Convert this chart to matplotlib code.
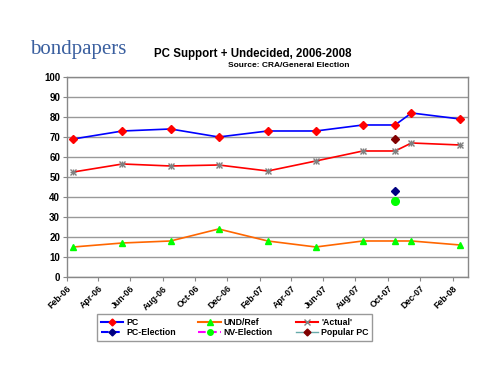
import matplotlib
matplotlib.use("Agg")
import matplotlib.pyplot as plt
from matplotlib.lines import Line2D
from datetime import date

plt.rcParams['font.family'] = ['Liberation Sans', 'DejaVu Sans']

poll_dates = [date(2006, 2, 13), date(2006, 5, 17), date(2006, 8, 16), date(2006, 11, 15),
              date(2007, 2, 16), date(2007, 5, 18), date(2007, 8, 15), date(2007, 10, 15),
              date(2007, 11, 15), date(2008, 2, 15)]
pc = [69, 73, 74, 70, 73, 73, 76, 76, 82, 79]
und_ref = [15, 17, 18, 24, 18, 15, 18, 18, 18, 16]
actual = [52.5, 56.5, 55.5, 56, 53, 58, 63, 63, 67, 66]
election_date = [date(2007, 10, 15)]
pc_election = [43]
nv_election = [38]
popular_pc = [69]

tick_dates = [date(2006 + (1 + 2 * i) // 12, (1 + 2 * i) % 12 + 1, 1) for i in range(13)]
tick_labels = [d.strftime('%b-%y') for d in tick_dates]
y_ticks = list(range(0, 101, 10))

fig = plt.figure(figsize=(4.97, 3.73), dpi=100)
ax = fig.add_axes([0.1348, 0.2574, 0.8069, 0.5362])

ax.plot(poll_dates, pc, color='#0000ff', lw=1.2, marker='D', ms=4, mfc='#ff0000', mec='#ff0000', zorder=3)
ax.plot(poll_dates, und_ref, color='#ff6600', lw=1.2, marker='^', ms=5, mfc='#00ff00', mec='#00ff00', zorder=3)
ax.plot(poll_dates, actual, color='#ff0000', lw=1.2, marker='x', ms=5, mec='#808080', mew=1, zorder=3)
ax.plot(poll_dates, actual, color='none', marker='+', ms=5, mec='#808080', mew=1, zorder=3)
ax.plot(election_date, pc_election, ls='none', marker='D', ms=4.5, mfc='#000080', mec='#000080', zorder=4)
ax.plot(election_date, nv_election, ls='none', marker='o', ms=5.5, mfc='#00ff00', mec='#00ff00', zorder=4)
ax.plot(election_date, popular_pc, ls='none', marker='D', ms=4.5, mfc='#800000', mec='#800000', zorder=4)

ax.set_ylim(0, 100)
ax.set_yticks(y_ticks)
ax.set_yticklabels([str(v) for v in y_ticks], fontsize=7, fontweight='bold')
ax.set_xlim(date(2006, 2, 1), date(2008, 3, 1))
ax.set_xticks(tick_dates)
ax.set_xticklabels(tick_labels, rotation=45, ha='right', rotation_mode='anchor', fontsize=6.3, fontweight='bold')
ax.grid(axis='y', color='#999999', lw=1)
ax.set_axisbelow(True)
for s in ax.spines.values():
    s.set_color('#888888')
    s.set_linewidth(1)
ax.tick_params(axis='both', length=3, color='#888888', pad=2)

handles = [
    Line2D([], [], color='#0000ff', lw=1.5, marker='D', ms=3.5, mfc='#ff0000', mec='#ff0000'),
    Line2D([], [], color='#0000ff', lw=1.5, ls='--', marker='D', ms=3.5, mfc='#000080', mec='#000080'),
    Line2D([], [], color='#ff6600', lw=1.5, marker='^', ms=4, mfc='#00ff00', mec='#00ff00'),
    Line2D([], [], color='#ff00ff', lw=1.5, ls='--', marker='o', ms=4, mfc='#00ff00', mec='#00ff00'),
    Line2D([], [], color='#ff0000', lw=1.5, marker='x', ms=4, mec='#808080'),
    Line2D([], [], color='#66aaaa', lw=1, marker='D', ms=3.5, mfc='#800000', mec='#800000'),
]
labels = ['PC', 'PC-Election', 'UND/Ref', 'NV-Election', "'Actual'", 'Popular PC']
leg = fig.legend(handles, labels, ncol=3, loc='center', bbox_to_anchor=(0.472, 0.122),
                 prop={'size': 6.3, 'weight': 'bold'}, frameon=True, fancybox=False,
                 edgecolor='#808080', handlelength=2.6, handletextpad=0.3, columnspacing=2.6,
                 labelspacing=0.15, borderpad=0.4)
leg.get_frame().set_linewidth(1)

fig.text(0.06, 0.855, 'bondpapers', family='Liberation Serif', fontsize=15, color='#3a5f9f', va='baseline')
fig.text(0.508, 0.848, 'PC Support + Undecided, 2006-2008', fontsize=8.3, fontweight='bold', ha='center', va='baseline')
fig.text(0.703, 0.82, 'Source: CRA/General Election', fontsize=6, fontweight='bold', ha='right', va='baseline')

fig.savefig('out.png', dpi=100)
